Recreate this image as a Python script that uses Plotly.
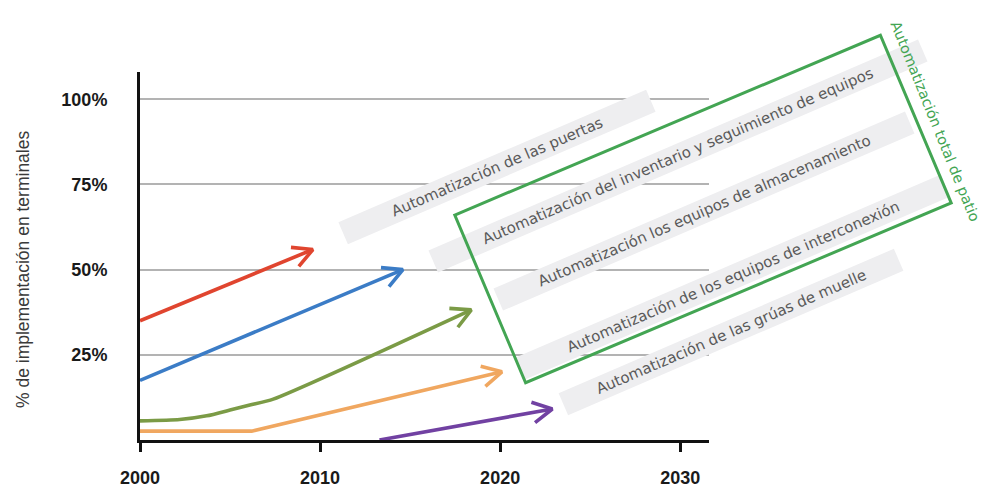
import math
import plotly.graph_objects as go

# ---- data: adoption paths (% of terminals) ----
red_years = [2000, 2009.6]
red_vals = [35, 55.9]

blue_years = [2000, 2014.6]
blue_vals = [17.5, 50]

green_years = [2000, 2002.2, 2003.7, 2005, 2006.1, 2007.4, 2018.4]
green_vals = [5.6, 6.0, 7.1, 8.8, 10.3, 12.0, 38.2]

orange_years = [2000, 2006.2, 2020.1]
orange_vals = [2.6, 2.6, 20.0]

purple_years = [2013.3, 2022.9]
purple_vals = [0, 9.1]

x_ticks = [2000, 2010, 2020, 2030]
y_ticks = [25, 50, 75, 100]
y_tick_text = ["25%", "50%", "75%", "100%"]

stage_labels = [
    "Automatización de las puertas",
    "Automatización del inventario y seguimiento de equipos",
    "Automatización los equipos de almacenamiento",
    "Automatización de los equipos de interconexión",
    "Automatización de las grúas de muelle",
]
group_label = "Automatización total de patio"
y_title = "% de implementación en terminales"

# ---- layout geometry ----
W, H = 984, 490
ML, MR, MT, MB = 140, 275, 72, 50
PLOT_W = W - ML - MR
PLOT_H = H - MT - MB
X_RANGE = [2000, 2031.6]
Y_RANGE = [0, 108]
KX = PLOT_W / (X_RANGE[1] - X_RANGE[0])
KY = PLOT_H / (Y_RANGE[1] - Y_RANGE[0])


def paper_x(px):
    return (px - ML) / PLOT_W


def paper_y(py):
    return (H - MB - py) / PLOT_H


def rect_path(cx, cy, length, thick, ang_deg):
    a = math.radians(ang_deg)
    ux, uy = math.cos(a), -math.sin(a)
    vx, vy = math.sin(a), math.cos(a)
    pts = []
    for s, t in [(-1, -1), (1, -1), (1, 1), (-1, 1)]:
        px = cx + s * length / 2 * ux + t * thick / 2 * vx
        py = cy + s * length / 2 * uy + t * thick / 2 * vy
        pts.append((paper_x(px), paper_y(py)))
    return "M " + " L ".join(f"{x:.5f},{y:.5f}" for x, y in pts) + " Z"


def chevron(xs, ys, arm=22, half=28):
    x0, y0, x1, y1 = xs[-2], ys[-2], xs[-1], ys[-1]
    ang = math.atan2((y1 - y0) * KY, (x1 - x0) * KX)
    cx, cy = [], []
    for s in (1, -1):
        a = ang + math.pi + s * math.radians(half)
        cx.append(x1 + arm * math.cos(a) / KX)
        cy.append(y1 + arm * math.sin(a) / KY)
    return [cx[0], x1, cx[1]], [cy[0], y1, cy[1]]


series = [
    (red_years, red_vals, "#e0452f", "linear"),
    (blue_years, blue_vals, "#3b7cc6", "linear"),
    (green_years, green_vals, "#7b9b46", "spline"),
    (orange_years, orange_vals, "#f0a760", "linear"),
    (purple_years, purple_vals, "#7141a2", "linear"),
]

fig = go.Figure()
for xs, ys, col, shape in series:
    fig.add_trace(go.Scatter(x=xs, y=ys, mode="lines",
                             line=dict(color=col, width=3.6, shape=shape, smoothing=0.6),
                             cliponaxis=False, hoverinfo="skip"))
    hx, hy = chevron(xs, ys)
    fig.add_trace(go.Scatter(x=hx, y=hy, mode="lines",
                             line=dict(color=col, width=3.6),
                             cliponaxis=False, hoverinfo="skip"))

# stage bands (pixel centres, band lengths)
label_centres = [(497, 167), (678, 156), (704, 211), (733, 277), (731, 332)]
band_lengths = [335, 533, 448, 463, 365]
LABEL_ANGLE = 23.3
BAND_THICK = 24

shapes = []
for (cx, cy), ln in zip(label_centres, band_lengths):
    shapes.append(dict(type="path", xref="paper", yref="paper",
                       path=rect_path(cx, cy, ln, BAND_THICK, LABEL_ANGLE),
                       fillcolor="#eeeef0", line=dict(width=0), layer="above"))

# outline grouping the full-yard stages
shapes.append(dict(type="path", xref="paper", yref="paper",
                   path=rect_path(703, 209, 462, 182, 22.9),
                   fillcolor="rgba(0,0,0,0)",
                   line=dict(color="#43a553", width=3), layer="above"))

annotations = []
for (cx, cy), txt in zip(label_centres, stage_labels):
    annotations.append(dict(text=txt, xref="paper", yref="paper",
                            x=paper_x(cx), y=paper_y(cy),
                            xanchor="center", yanchor="middle",
                            textangle=-LABEL_ANGLE, showarrow=False,
                            font=dict(family="DejaVu Sans", size=15, color="#5a5a5a")))

annotations.append(dict(text=group_label, xref="paper", yref="paper",
                        x=paper_x(935), y=paper_y(121),
                        xanchor="center", yanchor="middle",
                        textangle=68, showarrow=False,
                        font=dict(family="DejaVu Sans", size=14.5, color="#43a553")))

annotations.append(dict(text=y_title, xref="paper", yref="paper",
                        x=paper_x(23), y=paper_y(270),
                        xanchor="center", yanchor="middle",
                        textangle=-90, showarrow=False,
                        font=dict(family="Liberation Sans, Arial", size=17.5, color="#3a3a3a")))

fig.update_layout(
    width=W, height=H,
    margin=dict(l=ML, r=MR, t=MT, b=MB, autoexpand=False),
    plot_bgcolor="white", paper_bgcolor="white",
    showlegend=False,
    shapes=shapes, annotations=annotations,
    xaxis=dict(range=X_RANGE, tickvals=x_ticks, ticktext=[str(v) for v in x_ticks],
               automargin=False,
               showgrid=False, zeroline=False,
               showline=True, linecolor="#111", linewidth=3,
               ticks="outside", ticklen=9, tickwidth=3, tickcolor="#111",
               ticklabelstandoff=10,
               tickfont=dict(family="Liberation Sans, Arial", size=18, color="#1a1a1a", weight="bold")),
    yaxis=dict(range=Y_RANGE, tickvals=y_ticks, ticktext=y_tick_text,
               automargin=False,
               showgrid=True, gridcolor="#b3b3b3", gridwidth=1.5, zeroline=False,
               showline=True, linecolor="#111", linewidth=3,
               ticks="", ticklabelstandoff=26,
               tickfont=dict(family="Liberation Sans, Arial", size=18, color="#1a1a1a", weight="bold")),
)

fig.write_html("out.html")
